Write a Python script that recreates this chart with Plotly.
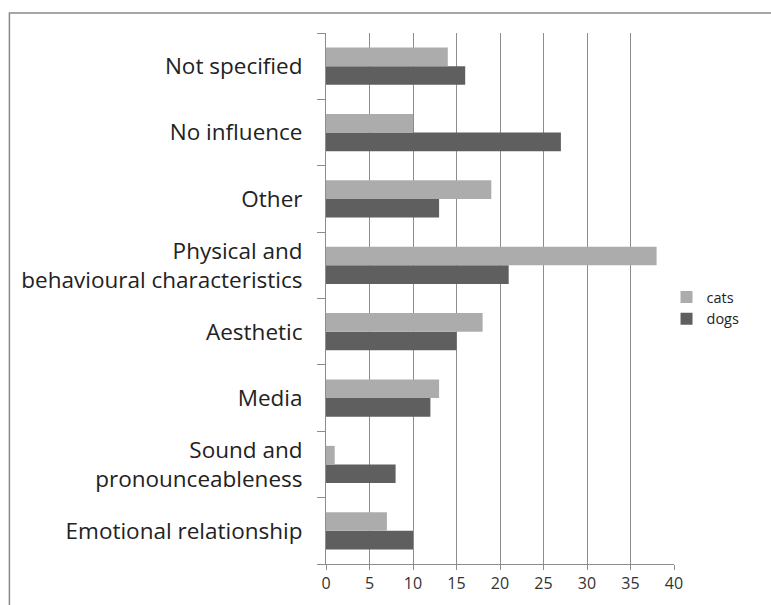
import plotly.graph_objects as go

# Categories listed bottom -> top
categories = [
    "Emotional relationship",
    "Sound and<br>pronounceableness",
    "Media",
    "Aesthetic",
    "Physical and<br>behavioural characteristics",
    "Other",
    "No influence",
    "Not specified",
]
cats = [7, 1, 13, 18, 38, 19, 10, 14]
dogs = [10, 8, 12, 15, 21, 13, 27, 16]

W, H = 771, 605
ML, MR, MT, MB = 325.5, 96.5, 33, 41
PW = W - ML - MR
PH = H - MT - MB

def px_x(p):
    return (p - ML) / PW

def px_y(p):
    return (H - MB - p) / PH

fig = go.Figure()
fig.add_trace(go.Bar(y=categories, x=dogs, name="dogs", orientation="h",
                     marker=dict(color="#5f5f5f", line=dict(width=0))))
fig.add_trace(go.Bar(y=categories, x=cats, name="cats", orientation="h",
                     marker=dict(color="#acacac", line=dict(width=0))))

fig.update_layout(
    width=W, height=H,
    margin=dict(l=ML, r=MR, t=MT, b=MB, pad=0),
    paper_bgcolor="white", plot_bgcolor="white",
    barmode="group", bargap=0.44, bargroupgap=0,
    font=dict(family="'Open Sans', sans-serif", color="#222222"),
    legend=dict(traceorder="reversed", x=px_x(667), y=px_y(281),
                xanchor="left", yanchor="top",
                font=dict(size=14.5, color="#222222"),
                itemwidth=30, tracegroupgap=0, bgcolor="rgba(0,0,0,0)"),
    showlegend=True,
    shapes=[dict(type="rect", xref="paper", yref="paper",
                 x0=px_x(8), x1=px_x(800), y0=px_y(640), y1=px_y(13),
                 line=dict(color="#8a8a8a", width=1.5), layer="below")],
)

fig.update_xaxes(range=[0, 40], tickmode="linear", tick0=0, dtick=5,
                 showgrid=True, gridcolor="#8c8c8c", gridwidth=1,
                 showline=True, linecolor="#8c8c8c", linewidth=1,
                 ticks="outside", ticklen=5, tickcolor="#8c8c8c",
                 tickfont=dict(size=16, color="#333333"),
                 zeroline=False, fixedrange=True)
fig.update_yaxes(type="category", categoryorder="array", categoryarray=categories,
                 showgrid=False, showline=True, linecolor="#8c8c8c", linewidth=1,
                 ticks="outside", ticklen=8, tickcolor="#8c8c8c",
                 tickson="boundaries", ticklabelstandoff=18,
                 tickfont=dict(size=22.5, color="#222222"),
                 zeroline=False, fixedrange=True)

fig.write_html("out.html")
